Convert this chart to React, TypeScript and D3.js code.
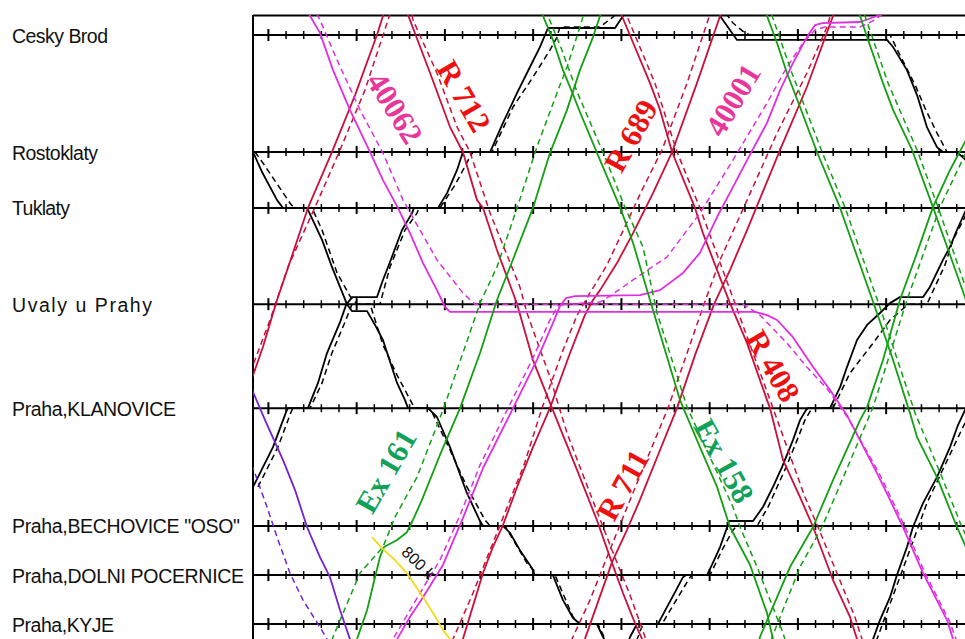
import React from "react";
import * as d3 from "d3";

type P = [number, number];

// stations (name, km position)
const stationNames = [
  "Cesky Brod",
  "Rostoklaty",
  "Tuklaty",
  "Uvaly u Prahy",
  "Praha,KLANOVICE",
  'Praha,BECHOVICE "OSO"',
  "Praha,DOLNI POCERNICE",
  "Praha,KYJE",
];
const stationKm = [0, 4.5, 6.65, 10.35, 14.35, 18.88, 20.77, 22.65];
const stationLabelWidth = [96, 86, 58, 140, 164, 228, 232, 102];

// minute ticks
const minuteTicks = d3.range(0, 40);

// trains: [minute, km]
const blackA: P[] = [[-1.61,4.5],[-0.87,4.5],[-0.36,5.27],[0.49,6.35],[0.83,6.65],[2.19,6.65],[3.04,7.88],[3.6,8.92],[4.17,9.88],[4.45,10.35],[4.74,10.62],[5.59,10.62],[6.04,11.15],[6.49,11.73],[7.29,13.38],[7.74,14.04],[7.91,14.35],[9.04,14.35],[9.55,14.69],[10.29,15.85],[11.25,17.62],[11.99,18.69],[12.16,18.88],[13.29,18.88],[13.69,19.15],[14.25,19.81],[14.93,20.5],[15.1,20.77],[16.12,20.77],[16.69,21.73],[17.26,22.42],[17.65,22.65],[18.61,22.65],[18.96,23.15],[19.47,23.85]];
const blackAPlan: P[] = [[-0.76,4.5],[-0.31,4.92],[1.22,6.46],[1.45,6.65],[2.47,6.65],[3.04,7.5],[3.89,9.15],[4.62,10.04],[5.02,10.35],[5.76,10.35],[6.49,11.92],[7.29,13.08],[8.19,14.23],[8.36,14.35],[9.16,14.35],[10.29,15.96],[11.25,17.38],[12.27,18.65],[12.56,18.88],[13.41,18.88],[14.65,20.31],[15.27,20.77],[16.24,20.77],[17.26,22.38],[17.65,22.65],[18.67,22.65],[19.24,23.46]];
const blackB: P[] = [[-1.61,18.38],[-0.87,17.38],[0.26,15.85],[1.0,14.5],[1.11,14.35],[2.24,14.35],[2.81,13.38],[3.32,12.23],[4.06,11.04],[4.4,10.38],[4.74,10.08],[6.15,10.08],[6.49,9.42],[6.89,8.73],[7.57,7.5],[8.14,6.85],[8.25,6.65],[9.61,6.65],[10.12,6.08],[10.69,5.19],[11.02,4.5],[12.56,4.5],[13.29,3.38],[14.09,2.23],[14.82,1.23],[15.39,0.46],[15.84,-0.27],[19.64,-0.27],[20.09,-0.73],[20.37,-1.04]];
const blackBPlan: P[] = [[-0.59,17.38],[0.54,15.85],[1.28,14.5],[1.39,14.35],[2.36,14.35],[3.04,13.38],[3.6,12.23],[4.34,11.04],[4.74,10.35],[6.32,10.35],[6.89,8.92],[7.74,7.5],[8.42,6.85],[8.53,6.65],[9.72,6.65],[10.57,5.77],[11.42,4.69],[11.59,4.5],[12.67,4.5],[13.86,2.77],[14.99,1.62],[15.95,0.58],[16.35,0.08],[16.52,-0.31],[18.79,-0.31],[19.52,-0.69],[19.92,-0.96]];
const blackC: P[] = [[25.13,-1.15],[25.59,-0.73],[26.55,0.19],[35.05,0.19],[35.39,0.46],[36.18,1.35],[36.75,2.31],[37.31,3.54],[37.88,4.31],[38.22,4.5],[39.01,4.5],[39.52,4.81],[40.09,5.58]];
const blackCPlan: P[] = [[25.59,-1.15],[26.32,-0.46],[27.0,-0.08],[27.29,0],[35.22,0],[35.78,0.77],[36.64,1.92],[37.2,2.81],[37.88,3.77],[38.45,4.5],[39.18,4.5],[39.75,5.0]];
const blackD: P[] = [[20.2,23.65],[20.49,23.15],[20.88,22.65],[22.07,22.65],[22.58,22.0],[23.1,21.35],[23.49,20.85],[23.66,20.77],[24.85,20.77],[25.13,20.38],[25.59,19.69],[25.93,19.04],[26.1,18.69],[27.46,18.69],[28.02,18.15],[28.59,17.38],[29.1,16.62],[29.72,15.58],[30.12,14.81],[30.46,14.42],[30.57,14.35],[31.82,14.35],[32.39,13.54],[32.78,12.77],[33.35,11.73],[33.92,11.15],[34.65,10.69],[35.22,10.31],[35.78,10.08],[37.09,10.08],[37.48,9.69],[38.22,8.65],[38.62,8.15],[39.01,7.5],[39.52,6.73],[40.09,5.88]];
const blackDPlan: P[] = [[20.66,23.65],[20.94,23.15],[21.22,22.65],[22.3,22.65],[22.87,22.0],[23.89,20.85],[24.0,20.77],[25.02,20.77],[25.76,19.73],[26.32,19.04],[26.55,18.88],[27.69,18.88],[28.31,18.15],[29.33,16.62],[29.95,15.58],[30.4,14.81],[30.8,14.35],[31.99,14.35],[32.95,13.0],[34.26,11.85],[35.22,10.96],[36.07,10.46],[36.35,10.35],[37.31,10.35],[38.33,8.85],[38.79,7.88],[39.52,6.92],[40.09,6.15]];
const blackE: P[] = [[33.8,24.04],[34.26,23.23],[34.65,22.5],[35.22,21.62],[35.61,20.77],[36.18,19.69],[36.52,18.92],[37.09,18.0],[37.88,17.0],[38.62,15.85],[39.07,15.0],[39.52,14.35],[40.09,14.23]];
const blackEPlan: P[] = [[34.09,24.04],[34.48,23.23],[35.78,20.85],[37.31,18.0],[38.33,16.54],[39.35,15.08],[39.86,14.42]];

const redR1: P[] = [[-1.61,14.42],[-0.87,13.08],[-0.31,12.0],[0.49,10.19],[1.22,8.73],[2.24,6.65],[3.6,4.5],[4.91,2.31],[6.15,0],[6.49,-0.73],[6.89,-1.35]];
const redR1Plan: P[] = [[-1.33,13.73],[-0.87,12.69],[0.09,10.96],[1.11,8.92],[2.75,6.46],[4.06,4.42],[5.47,2.12],[6.78,-0.58],[7.06,-1.15]];
const r712: P[] = [[7.63,-1.35],[7.91,-0.77],[9.16,1.46],[10.29,3.54],[11.02,4.5],[11.82,6.35],[12.16,6.65],[12.95,8.27],[13.86,9.92],[14.09,10.35],[14.99,12.5],[16.07,14.35],[17.49,16.73],[18.61,18.65],[19.35,20.08],[20.09,21.46],[20.77,22.62],[21.17,23.23],[21.62,24.04]];
const r712Plan: P[] = [[8.02,-1.15],[8.19,-0.58],[9.55,1.46],[10.69,3.54],[11.42,4.5],[12.56,6.85],[14.25,9.69],[14.65,10.69],[15.95,13.15],[16.92,15.31],[18.22,17.62],[19.47,19.81],[20.49,21.54],[21.34,23.15],[21.73,23.85]];
const r689: P[] = [[10.57,24.04],[11.02,23.23],[12.16,20.69],[12.72,19.69],[13.29,18.85],[14.09,17.38],[14.99,15.85],[15.95,14.35],[17.09,12.23],[17.93,10.77],[18.39,10.19],[18.79,9.81],[19.75,8.77],[20.66,7.62],[21.79,6.08],[22.87,4.5],[24.28,1.85],[25.59,-0.73],[25.93,-1.35]];
const r689Plan: P[] = [[10.01,24.04],[10.46,23.23],[11.59,21.46],[12.56,19.81],[13.69,17.88],[14.48,16.54],[15.5,14.35],[16.63,12.23],[17.49,10.77],[18.22,9.92],[19.18,8.85],[20.03,7.62],[21.17,5.96],[22.3,4.42],[23.72,1.85],[24.91,-0.58],[25.19,-1.15]];
const r711: P[] = [[17.54,24.04],[17.93,23.23],[18.79,21.58],[19.47,20.27],[20.31,19.04],[21.05,17.88],[22.19,15.96],[23.15,14.35],[24.17,12.31],[25.25,10.35],[26.15,9.04],[27.12,7.5],[28.99,4.42],[30.51,2.0],[31.99,-0.73],[32.39,-1.35]];
const r711Plan: P[] = [[16.8,24.04],[17.2,23.23],[18.22,21.73],[18.96,20.46],[20.49,17.88],[22.64,14.35],[24.68,10.35],[25.59,8.65],[27.12,6.35],[28.82,3.77],[30.51,1.46],[31.65,-0.31],[31.93,-0.96]];
const r408: P[] = [[19.69,-1.35],[20.03,-0.73],[21.62,1.85],[22.19,2.88],[22.87,4.5],[24.17,6.65],[24.62,7.62],[25.42,9.04],[26.15,10.31],[27.12,11.85],[28.25,14.04],[28.42,14.35],[29.16,16.35],[30.12,17.77],[30.86,18.92],[31.99,20.96],[32.95,22.38],[33.35,23.23],[33.75,24.04]];
const r408Plan: P[] = [[19.92,-1.35],[20.31,-0.73],[21.9,1.85],[23.15,4.5],[24.45,6.65],[26.43,10.31],[28.59,14.35],[30.4,17.77],[31.14,18.92],[33.23,22.38],[33.63,23.23],[34.09,24.04]];

const f40062: P[] = [[1.96,-1.35],[2.36,-0.73],[2.92,-0.08],[3.66,1.35],[4.62,2.88],[5.76,4.5],[6.49,5.58],[7.34,6.65],[8.02,7.62],[8.76,8.77],[9.55,9.81],[10.01,10.46],[10.29,10.65],[27.57,10.65],[28.25,10.77],[28.82,10.96],[29.72,11.62],[30.86,12.77],[31.82,13.65],[32.78,14.62],[34.48,16.85],[35.22,17.88],[35.95,18.92],[37.09,20.69],[38.45,22.5],[38.79,23.23],[39.18,23.85]];
const f40062Plan: P[] = [[2.47,-1.15],[2.92,-0.58],[3.89,0.96],[5.19,2.88],[6.49,4.54],[7.63,6.35],[9.55,8.65],[11.02,9.92],[11.7,10.35],[26.89,10.35],[27.85,10.77],[29.38,11.85],[30.51,12.77],[31.71,13.65],[32.84,14.73],[34.6,16.85],[36.07,18.92],[37.2,20.69],[38.56,22.5],[38.96,23.23]];
const f40001: P[] = [[6.89,23.85],[7.29,23.23],[8.02,22.38],[8.76,21.62],[9.89,20.38],[11.02,18.58],[12.16,16.65],[13.86,14.35],[15.21,12.5],[16.12,11.08],[16.52,10.42],[16.86,10.12],[17.37,10.04],[21.05,10.0],[22.19,9.81],[23.49,9.15],[24.45,8.38],[25.42,7.0],[26.32,5.85],[27.12,4.81],[28.25,3.38],[28.99,2.12],[29.72,1.08],[30.51,0.08],[30.97,-0.38],[31.37,-0.46],[33.52,-0.5],[34.48,-0.73],[34.93,-0.88]];
const f40001Plan: P[] = [[6.61,23.85],[7.06,23.23],[8.59,21.46],[9.72,20.19],[10.86,18.46],[11.99,16.54],[13.58,14.35],[14.99,12.42],[15.95,10.96],[16.41,10.42],[16.8,10.35],[18.79,10.27],[19.35,10.04],[20.66,9.42],[22.58,8.54],[24.45,6.85],[26.32,4.81],[28.25,2.62],[29.38,1.23],[30.29,0.31],[30.97,-0.19],[31.54,-0.31],[33.52,-0.31],[34.37,-0.58],[34.93,-0.88]];

const ex161: P[] = [[4.74,24.04],[5.02,23.23],[5.59,22.12],[6.04,20.85],[6.32,20.08],[6.55,19.69],[7.29,19.42],[7.85,19.12],[8.19,18.65],[8.7,17.88],[9.72,16.15],[10.86,14.35],[11.99,12.23],[12.95,10.19],[13.69,8.92],[14.99,6.65],[15.95,4.54],[16.92,2.88],[17.65,1.35],[18.39,0.08],[18.79,-0.73],[19.13,-1.35]];
const ex161Plan: P[] = [[3.32,24.04],[3.66,23.15],[5.19,20.69],[6.49,19.69],[7.17,18.54],[7.85,17.69],[8.42,17.0],[9.89,14.42],[11.02,12.23],[11.99,10.31],[12.95,8.92],[14.09,6.65],[15.21,4.31],[16.35,2.23],[16.92,1.23],[17.65,-0.31],[17.93,-0.96]];
const ex158: P[] = [[15.21,-1.35],[15.56,-0.73],[16.12,0.19],[16.69,1.35],[17.2,2.19],[17.65,2.96],[18.79,4.81],[19.92,6.62],[20.66,8.0],[21.62,10.19],[22.47,12.12],[23.32,14.04],[24.45,15.85],[25.42,17.38],[26.15,18.92],[27.29,20.38],[28.25,22.23],[28.59,23.23],[28.99,24.04]];
const ex158Plan: P[] = [[15.56,-1.35],[15.84,-0.73],[16.52,0.38],[17.49,2.19],[19.07,4.69],[20.2,6.62],[21.22,8.15],[22.02,10.69],[23.72,14.31],[25.02,16.23],[26.32,18.15],[26.72,18.92],[27.69,20.46],[29.16,23.0],[29.44,23.65]];
const greenA: P[] = [[28.02,-1.15],[28.25,-0.73],[28.82,0.31],[29.38,1.46],[30.12,2.77],[31.08,4.5],[32.39,6.65],[34.48,10.69],[35.39,12.5],[36.35,14.54],[36.75,15.46],[37.88,17.0],[39.01,18.92],[39.52,19.69],[40.09,20.58]];
const greenAPlan: P[] = [[28.31,-1.15],[28.54,-0.73],[29.66,1.46],[31.37,4.5],[32.68,6.65],[34.76,10.69],[36.64,14.54],[38.16,17.0],[39.29,18.92],[40.09,20.0]];
const greenB: P[] = [[33.35,-1.15],[33.52,-0.73],[33.92,0.08],[34.82,1.85],[35.39,2.88],[36.47,4.42],[37.65,6.62],[38.62,8.46],[39.52,10.19],[40.09,11.35]];
const greenBPlan: P[] = [[33.63,-1.15],[33.8,-0.73],[35.11,1.85],[36.75,4.42],[37.94,6.62],[39.75,10.19]];
const greenC: P[] = [[27.57,24.04],[27.85,23.15],[29.55,20.46],[30.86,18.92],[31.99,17.12],[33.52,14.81],[33.92,14.31],[34.82,12.5],[35.78,10.19],[36.75,8.38],[37.65,6.62],[38.62,5.19],[39.52,4.04],[40.09,3.19]];
const greenCPlan: P[] = [[28.25,24.04],[28.54,23.15],[30.12,20.46],[31.37,18.92],[34.26,14.31],[36.18,10.19],[38.05,6.62],[39.86,4.04]];

const violet: P[] = [[-1.21,13.08],[-0.87,13.73],[-0.19,14.81],[0.83,16.35],[1.51,17.5],[2.19,18.92],[2.92,20.08],[3.49,20.85],[4.06,22.12],[4.62,23.23],[4.91,23.85]];
const violetPlan: P[] = [[-1.16,16.15],[-0.87,16.65],[-0.08,18.15],[0.49,19.31],[1.22,20.69],[1.96,21.73],[2.92,22.77],[3.32,23.23],[3.66,23.85]];
const yellowCurve: P[] = [[5.87,19.31],[6.49,19.77],[7.17,20.19],[7.85,20.69],[8.76,21.62],[9.33,22.23],[9.89,22.88],[10.29,23.23],[10.57,23.65]];

// train number labels: text, [minute, km], angle
const labelTexts = ["40062", "R 712", "R 689", "40001", "R 408", "Ex 158", "R 711", "Ex 161"];
const labelPos: P[] = [[7.17,2.81],[11.08,2.35],[20.54,3.88],[26.32,2.5],[28.59,12.73],[25.81,16.38],[20.09,17.31],[6.66,16.77]];
const labelAngle = [58, 60, -61, -59, 60, 61, -61, -60];

// speed annotation on the yellow curve
const noteText = "800 k";
const notePos: P = [8.5, 20.3];

const BLACK = "#000000";
const RED = "#cc0f3a";
const MAG = "#e02ee0";
const GREEN = "#12a012";
const VIOLET = "#7422d4";
const YELLOW = "#f2dc1a";

const trains = [
  { d: blackA, c: BLACK, dash: false }, { d: blackAPlan, c: BLACK, dash: true },
  { d: blackB, c: BLACK, dash: false }, { d: blackBPlan, c: BLACK, dash: true },
  { d: blackC, c: BLACK, dash: false }, { d: blackCPlan, c: BLACK, dash: true },
  { d: blackD, c: BLACK, dash: false }, { d: blackDPlan, c: BLACK, dash: true },
  { d: blackE, c: BLACK, dash: false }, { d: blackEPlan, c: BLACK, dash: true },
  { d: redR1, c: RED, dash: false }, { d: redR1Plan, c: RED, dash: true },
  { d: r712, c: RED, dash: false }, { d: r712Plan, c: RED, dash: true },
  { d: r689, c: RED, dash: false }, { d: r689Plan, c: RED, dash: true },
  { d: r711, c: RED, dash: false }, { d: r711Plan, c: RED, dash: true },
  { d: r408, c: RED, dash: false }, { d: r408Plan, c: RED, dash: true },
  { d: f40062, c: MAG, dash: false }, { d: f40062Plan, c: MAG, dash: true },
  { d: f40001, c: MAG, dash: false }, { d: f40001Plan, c: MAG, dash: true },
  { d: ex161, c: GREEN, dash: false }, { d: ex161Plan, c: GREEN, dash: true },
  { d: ex158, c: GREEN, dash: false }, { d: ex158Plan, c: GREEN, dash: true },
  { d: greenA, c: GREEN, dash: false }, { d: greenAPlan, c: GREEN, dash: true },
  { d: greenB, c: GREEN, dash: false }, { d: greenBPlan, c: GREEN, dash: true },
  { d: greenC, c: GREEN, dash: false }, { d: greenCPlan, c: GREEN, dash: true },
  { d: violet, c: VIOLET, dash: false }, { d: violetPlan, c: VIOLET, dash: true },
  { d: yellowCurve, c: YELLOW, dash: false },
];

const labelColor = (t: string) =>
  t.startsWith("R") ? "#ee1111" : t.startsWith("Ex") ? "#12a158" : "#e8369a";

export default function App() {
  const W = 965, H = 639;
  const left = 253, top = 15;
  const x = d3.scaleLinear().domain([0, 40]).range([268.4, 974.4]);
  const y = d3.scaleLinear().domain([0, 22.65]).range([35, 624]);
  const line = d3.line<P>().x((d) => x(d[0])).y((d) => y(d[1]));

  return (
    <svg width={W} height={H} style={{ position: "absolute", left: 0, top: 0, background: "#fff" }}>
      <defs>
        <clipPath id="plot">
          <rect x={left} y={top} width={W - left + 20} height={H - top + 20} />
        </clipPath>
      </defs>
      <rect x={0} y={0} width={W} height={H} fill="#fff" />
      {/* station labels */}
      {stationNames.map((s, i) => (
        <text key={s} x={12} y={y(stationKm[i]) + 7.5} fontFamily="'Liberation Sans', Arial, sans-serif"
          fontSize={19.5} fill="#111" textLength={stationLabelWidth[i]} lengthAdjust="spacing">{s}</text>
      ))}
      {/* frame */}
      <line x1={left} x2={W} y1={top + 0.5} y2={top + 0.5} stroke="#000" strokeWidth={2} />
      <line x1={left} x2={left} y1={top} y2={H} stroke="#000" strokeWidth={2} />
      {/* station lines with ticks */}
      {stationKm.map((k, i) => (
        <g key={i}>
          <line x1={left} x2={W} y1={y(k)} y2={y(k)} stroke="#000" strokeWidth={2} />
          {minuteTicks.map((m) => (
            <line key={m} x1={x(m)} x2={x(m)} y1={y(k) - (m % 5 === 0 ? 6 : 4)} y2={y(k) + (m % 5 === 0 ? 6 : 4)}
              stroke="#000" strokeWidth={m % 5 === 0 ? 2 : 1.5} />
          ))}
        </g>
      ))}
      {/* trains */}
      <g clipPath="url(#plot)" fill="none">
        {trains.map((t, i) => (
          <path key={i} d={line(t.d) || ""} stroke={t.c} strokeWidth={t.dash ? 1.5 : 1.8}
            strokeDasharray={t.dash ? "6,4" : undefined} strokeLinejoin="round" />
        ))}
      </g>
      {/* train labels */}
      {labelTexts.map((t, i) => (
        <text key={t} transform={`translate(${x(labelPos[i][0])},${y(labelPos[i][1])}) rotate(${labelAngle[i]})`}
          textAnchor="middle" dominantBaseline="central" fontFamily="'Liberation Serif', 'Times New Roman', serif"
          fontWeight="bold" fontSize={31} fill={labelColor(t)}>{t}</text>
      ))}
      {/* yellow annotation */}
      <text transform={`translate(${x(notePos[0])},${y(notePos[1])}) rotate(44)`} textAnchor="middle" dominantBaseline="central"
        fontFamily="'Liberation Sans', Arial, sans-serif" fontSize={16} fill="#111">{noteText}</text>
    </svg>
  );
}
